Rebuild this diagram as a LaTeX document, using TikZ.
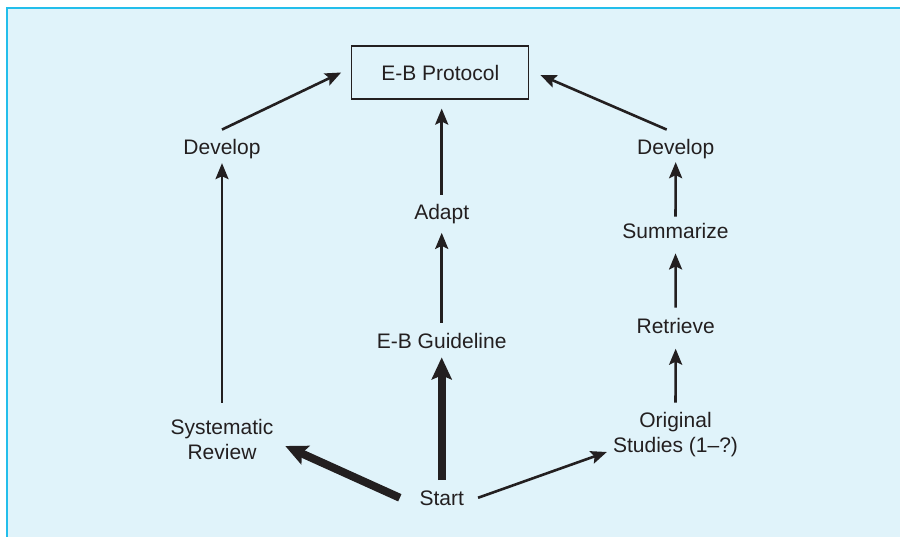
\documentclass[tikz,border=0pt]{standalone}
\usepackage{fontspec}
\setmainfont{Liberation Sans}
\usetikzlibrary{arrows.meta}
\definecolor{panel}{RGB}{224,243,250}
\definecolor{panelrule}{RGB}{35,190,235}
\definecolor{ink}{RGB}{35,31,32}
\begin{document}
\begin{tikzpicture}
    [
      x=1pt, y=-1pt,
      lbl/.style={font=\fontsize{21}{25}\selectfont, inner sep=0pt, text=ink},
      thin arrow/.style={ink, line width=2.6pt, -{Stealth[length=16pt,width=13pt,inset=3pt]}},
      thick arrow/.style={ink, line width=8pt, -{Stealth[length=22pt,width=20pt,inset=4pt]}},
    ]
    % panel
    \useasboundingbox (0,0) rectangle (900,537);
    \fill [panel] (7,8.2) rectangle (900,537);
    \draw [panelrule, line width=1.8pt] (7,537) -- (7,8.2) -- (900,8.2);

    % protocol box
    \node [lbl, draw=ink, line width=1.2pt, minimum width=177pt, minimum height=53pt] (pr) at (440.3,72.5) {E-B Protocol};

    % left column
    \node [lbl, anchor=base] (dl) at (222,155) {Develop};
    \node [lbl, align=center] (sr) at (222,439.3) {Systematic\\Review};

    % middle column
    \node [lbl, anchor=base] (ad) at (441.7,220) {Adapt};
    \node [lbl, anchor=base] (gl) at (441.7,348.3) {E-B Guideline};
    \node [lbl, anchor=base] (st) at (441.7,505) {Start};

    % right column
    \node [lbl, anchor=base] (dr) at (675.7,155) {Develop};
    \node [lbl, anchor=base] (su) at (675.5,238.5) {Summarize};
    \node [lbl, anchor=base] (re) at (675.7,334) {Retrieve};
    \node [lbl, align=center] (os) at (675.5,435) {Original\\Studies (1–?)};

    % arrows from start
    \draw [thick arrow, shorten <=10pt, shorten >=8.7pt] (st.north) -- (gl.south);
    \draw [thick arrow] ([xshift=-19.5pt]st.west) -- ([xshift=11.7pt,yshift=-6.7pt]sr.east);
    \draw [thin arrow] ([xshift=14pt]st.east) -- ([xshift=-6pt,yshift=-17pt]os.west);

    % left
    \draw [thin arrow, shorten <=16.3pt, shorten >=3.6pt] (sr.north) -- (dl.south);
    \draw [thin arrow] ([yshift=10pt]dl.north) -- ([xshift=-10pt]pr.west);

    % middle
    \draw [thin arrow, shorten <=10pt, shorten >=8.3pt] (gl.north) -- (ad.south);
    \draw [thin arrow, shorten <=10pt, shorten >=9pt] (ad.north) -- (ad.north |- pr.south);

    % right
    \draw [thin arrow, shorten <=10pt, shorten >=14.3pt] (os.north) -- (re.south);
    \draw [thin arrow, shorten <=11pt, shorten >=14.5pt] (re.north) -- (su.south);
    \draw [thin arrow, shorten <=6.5pt, shorten >=2.6pt] (su.north) -- (dr.south);
    \draw [thin arrow] ([xshift=-9pt,yshift=10pt]dr.north) -- ([xshift=11pt,yshift=-2.5pt]pr.east);
  \end{tikzpicture}
\end{document}
